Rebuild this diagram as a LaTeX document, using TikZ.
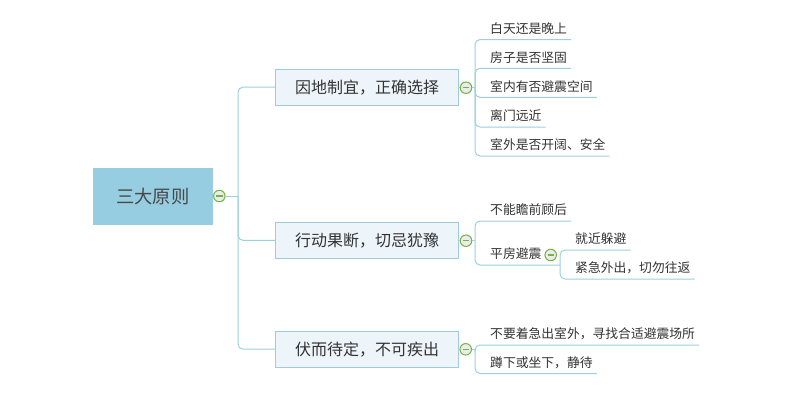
\documentclass[tikz,border=0pt]{standalone}
\usepackage{fontspec}
\setmainfont{Noto Sans CJK SC}
\definecolor{linkc}{HTML}{9CD0E0}
\definecolor{boxfill}{HTML}{EEF5FA}
\definecolor{boxline}{HTML}{9ECCDC}
\definecolor{rootfill}{HTML}{96CDE0}
\definecolor{txt}{HTML}{333333}
\definecolor{togg}{HTML}{72B443}
\begin{document}
\begin{tikzpicture}[x=1pt,y=-1pt,
  link/.style={draw=linkc, line width=1pt, rounded corners=5pt},
  rootbox/.style={fill=rootfill, draw=none, minimum width=120pt, minimum height=57pt, inner sep=0pt,
    font=\fontsize{18.3pt}{18.3pt}\selectfont, text=txt!90},
  branchbox/.style={fill=boxfill, draw=boxline, line width=1pt, minimum width=183pt, minimum height=36pt, inner sep=0pt,
    font=\fontsize{16pt}{16pt}\selectfont, text=txt},
  leaf/.style={anchor=south west, inner xsep=4pt, inner ysep=6pt, text height=9pt, text depth=0pt,
    font=\fontsize{12.8pt}{12.8pt}\selectfont, text=txt},
  toggle/.style={circle, draw=togg, line width=1pt, fill=white!92!black, minimum size=11.5pt, inner sep=0pt,
    path picture={\draw[togg, line width=1.4pt] ([xshift=-3.2pt]path picture bounding box.center) -- ([xshift=3.2pt]path picture bounding box.center);}}
]
\useasboundingbox (0,0) rectangle (800,408);
\fill[white] (0,0) rectangle (800,408);

% root
\node[rootbox] (root) at (152.7,196.3) {三大原则};
\node[toggle] (rc) at (219.3,196) {};
\coordinate (rh) at (238,196);

% branches
\node[branchbox] (b1) at (367,87.2) {因地制宜，正确选择};
\node[branchbox] (b2) at (367,240.3) {行动果断，切忌犹豫};
\node[branchbox] (b3) at (367,349.2) {伏而待定，不可疾出};
\node[toggle] (c1) at (466,87.7) {};
\node[toggle] (c2) at (466,240.7) {};
\node[toggle] (c3) at (465.7,349.3) {};
\coordinate (h1) at (475,87.7);
\coordinate (h2) at (475,240.7);
\coordinate (h3) at (475,349.3);

% leaves group 1
\node[leaf] (l1) at (486,39.5) {白天还是晚上};
\node[leaf] (l2) at (486,68.3) {房子是否坚固};
\node[leaf] (l3) at (486,97.3) {室内有否避震空间};
\node[leaf] (l4) at (486,127) {离门远近};
\node[leaf] (l5) at (486,156) {室外是否开阔、安全};

% leaves group 2
\node[leaf] (m1) at (486,221) {不能瞻前顾后};
\node[leaf] (m2) at (486,265) {平房避震};
\node[toggle] (mc) at (550.7,255) {};
\coordinate (sh) at (560,265);
\node[leaf] (s1) at (571,250) {就近躲避};
\node[leaf] (s2) at (571,279) {紧急外出，切勿往返};

% leaves group 3
\node[leaf] (n1) at (486,345) {不要着急出室外，寻找合适避震场所};
\node[leaf] (n2) at (486,373.5) {蹲下或坐下，静待};

% connectors root
\draw[link] (root.east) -- (rc.west);
\draw[link] (rc.east) -- (rh);
\draw[link] (rh) |- (b1.west);
\draw[link] (rh) |- (b2.west);
\draw[link] (rh) |- (b3.west);

% branch to toggles
\draw[link] (b1.east) -- (c1.west);
\draw[link] (b2.east) -- (c2.west);
\draw[link] (b3.east) -- (c3.west);
\draw[link] (c1.east) -- (h1);
\draw[link] (c2.east) -- (h2);
\draw[link] (c3.east) -- (h3);

% group 1 connectors
\foreach \l in {l1,l2,l3,l4,l5}
  \draw[link] (h1) |- (\l.south west) -- (\l.south east);
% group 2
\draw[link] (h2) |- (m1.south west) -- (m1.south east);
\draw[link] (h2) |- (m2.south west) -- (sh);
\draw[link] (sh) |- (s1.south west) -- (s1.south east);
\draw[link] (sh) |- (s2.south west) -- (s2.south east);
% group 3
\draw[link] (h3) |- (n1.south west) -- (n1.south east);
\draw[link] (h3) |- (n2.south west) -- (n2.south east);
\end{tikzpicture}
\end{document}
